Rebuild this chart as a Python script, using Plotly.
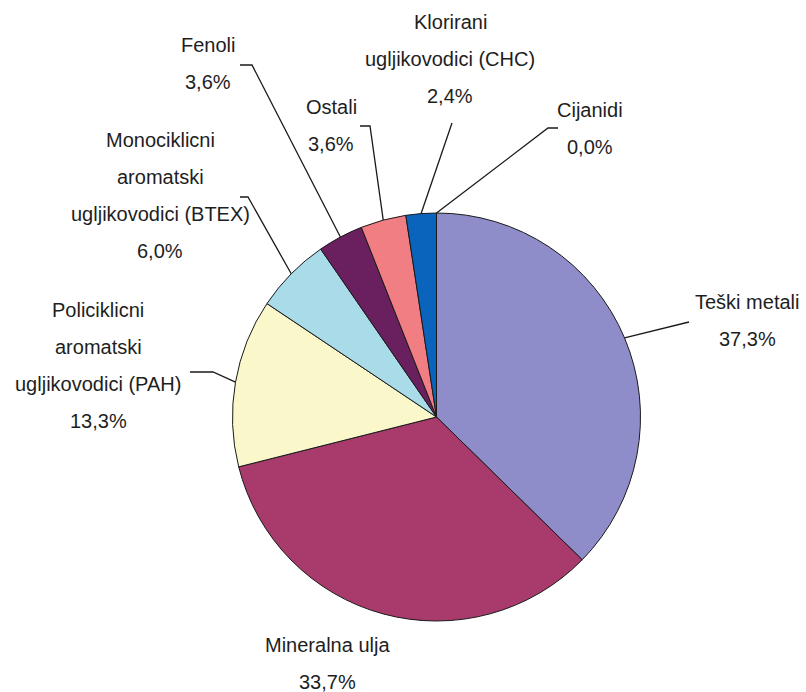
import math
import plotly.graph_objects as go

# ---- data ----
categories = ["Teški metali", "Mineralna ulja",
              "Policiklicni aromatski ugljikovodici (PAH)",
              "Monociklicni aromatski ugljikovodici (BTEX)",
              "Fenoli", "Ostali", "Klorirani ugljikovodici (CHC)", "Cijanidi"]
values = [37.3, 33.7, 13.3, 6.0, 3.6, 3.6, 2.4, 0.0]
label_lines = [
    ["Teški metali", "37,3%"],
    ["Mineralna ulja", "33,7%"],
    ["Policiklicni", "aromatski", "ugljikovodici (PAH)", "13,3%"],
    ["Monociklicni", "aromatski", "ugljikovodici (BTEX)", "6,0%"],
    ["Fenoli", "3,6%"],
    ["Ostali", "3,6%"],
    ["Klorirani", "ugljikovodici (CHC)", "2,4%"],
    ["Cijanidi", "0,0%"],
]
colors = ["#8F8DC9", "#A93A6C", "#FAF8CA", "#A9DBE8", "#6A1F5F", "#F07E82", "#0A64BC", "#CCCCFF"]

# ---- layout (pixels) ----
W, H = 806, 692
CX, CY, R = 436.5, 417.0, 204.0
# label block centre x, first-line y
label_pos = [(747, 302), (327, 645), (98, 310), (160, 140), (208, 45), (331, 107), (450, 22), (590, 110)]
line_gap = 37
# leader line: (elbow x, elbow y, end x)
leaders = [(689, 322, 689), None, (213, 372, 190), (248, 197, 240), (252, 65, 240),
           (370, 126, 360), (452, 123, 452), (548, 128, 558)]

def px(x):
    return x / W

def py(y):
    return 1 - y / H

fig = go.Figure(go.Pie(
    labels=categories, values=values, sort=False, direction="clockwise", rotation=0,
    marker=dict(colors=colors, line=dict(color="#1a1a1a", width=1)),
    textinfo="none", hoverinfo="label+percent", showlegend=False,
    domain=dict(x=[px(CX - R), px(CX + R)], y=[py(CY + R), py(CY - R)]),
))

font = dict(family="Liberation Sans, Arial, sans-serif", size=20, color="#1e1e1e")
annotations = []
for lines, (lx, ly) in zip(label_lines, label_pos):
    for i, t in enumerate(lines):
        annotations.append(dict(x=px(lx), y=py(ly + i * line_gap), xref="paper", yref="paper",
                                text=t, showarrow=False, xanchor="center", yanchor="middle", font=font))

shapes = []
total = sum(values)
cum = 0.0
for v, ld in zip(values, leaders):
    mid = (cum + v / 2) / total * 2 * math.pi
    cum += v
    if ld is None:
        continue
    ex = CX + R * math.sin(mid)
    ey = CY - R * math.cos(mid)
    bx, by, endx = ld
    path = f"M {px(endx)},{py(by)} L {px(bx)},{py(by)} L {px(ex)},{py(ey)}"
    shapes.append(dict(type="path", path=path, xref="paper", yref="paper",
                       line=dict(color="#1a1a1a", width=1.3)))

fig.update_layout(width=W, height=H, margin=dict(l=0, r=0, t=0, b=0),
                  paper_bgcolor="white", plot_bgcolor="white",
                  annotations=annotations, shapes=shapes)
fig.write_html("out.html", config={"displayModeBar": False},
               post_script="document.body.style.margin='0';document.body.style.overflow='hidden';")
